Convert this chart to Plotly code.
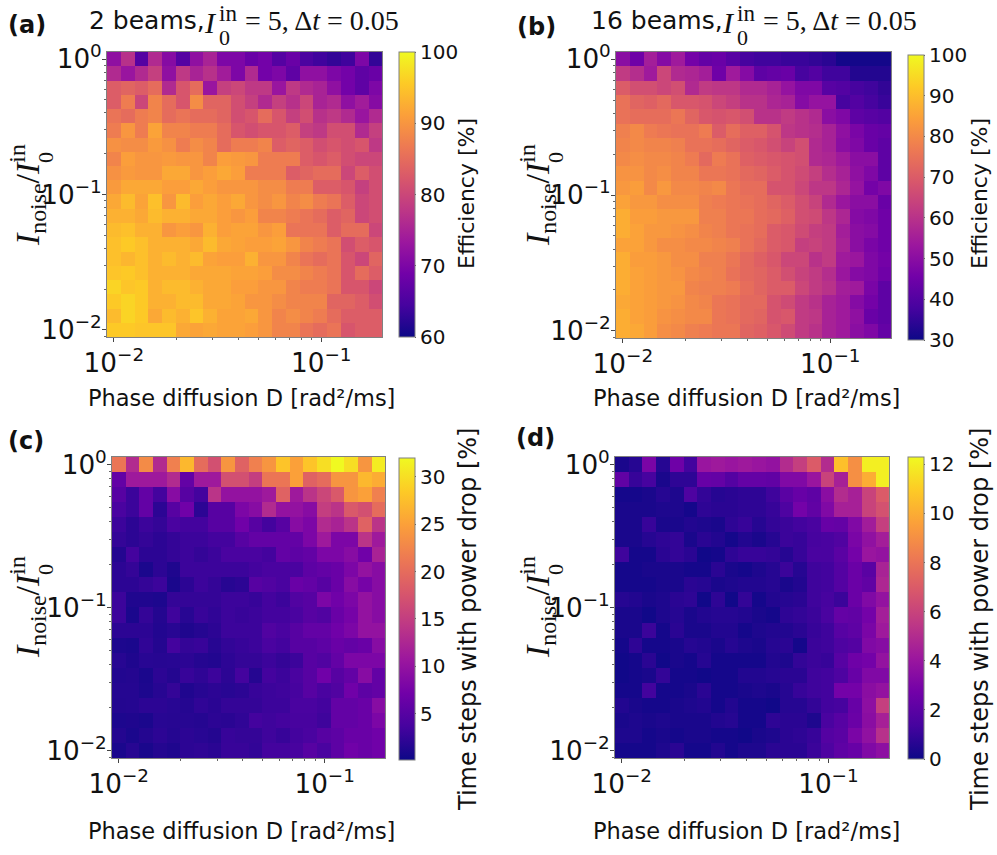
import plotly.graph_objects as go

W, H = 997, 855

D_values = [0.01, 0.01165, 0.01358, 0.01582, 0.01843, 0.02148, 0.02502, 0.02915, 0.03397, 0.03958,
            0.04611, 0.05372, 0.06259, 0.07293, 0.08497, 0.09899, 0.11533, 0.13437, 0.15656, 0.18241]
noise_values = [1.0, 0.7848, 0.6158, 0.4833, 0.3793, 0.2976, 0.2336, 0.1833, 0.1438, 0.1129,
                0.08859, 0.06952, 0.05456, 0.04281, 0.0336, 0.02637, 0.02069, 0.01624, 0.01274, 0.01]

eff_2beams = [
 [72,77,66,76,71,66,72,75,70,70,68,69,66,68,65,64,63,64,70,63],
 [76,73,76,79,72,78,75,77,74,70,76,69,70,67,72,72,70,69,67,68],
 [83,84,83,85,76,82,85,73,79,80,78,78,73,78,76,75,72,69,67,70],
 [83,87,80,88,85,82,89,84,84,81,79,76,79,77,80,75,76,72,74,71],
 [86,85,87,88,85,86,85,85,84,81,82,85,82,79,81,77,78,76,73,76],
 [87,90,87,91.5,88,88,87,87,85,82,81,82,82,83,79,78,81,81,76,79],
 [89.5,89,89,90.5,89.5,87,89,88,85,87,87,88,83,84,83,81,82,81,82,78],
 [88,91,90,90,90.5,90,90,88,91,90.5,90,87,87,87,83,82,83,81,80,80],
 [89.5,90.5,90,90,92,92,90,91,92,91,87,87,87,83,84,85,85,80,83,81],
 [90.5,92,92,92,91,91,92,91,90,90,90,89,89,87,87,83,83,82,79,81],
 [92,94,91.5,94.5,90,94,91,92,91,92,90,89,90,88,89,87,86,83,80,81],
 [93,93,92,94,93,93,92,92,91,90,91,88,88,87,86,85,83,84,80,81],
 [94,94.5,93,93,90,91,90,93,91,91.5,91.5,90,91,86,86,86,83,85,85,80],
 [94.5,95.5,94.5,93,93,93,92,94,92,91.5,91,91,91.5,90,88,87,86,81,83,82],
 [94.5,93.5,94.5,93,94,93,94,91.5,91,91,93,90,90,88,86,85,86,82,80,84],
 [95,95.5,94.5,93,93,93,92,92,92,91.5,91.5,91,89,89,88,87,86,82,85,83],
 [96.5,95,95.5,93,94,94,93,92,92,91,91,90,90,88,87,87,86,82,82,80],
 [95.5,96.5,95.5,93,93,94,94,92,92,91.5,90,90,89,88,88,88,84,84,83,81],
 [94,96.5,95.5,92,94,93,95,93,91.5,91.5,92,90,88,89,88,87,85,83,83,83],
 [95.5,95.5,95,95,95,92,91.5,92,91.5,91.5,91,90,88,88,86,85,86,82,83,83],
]
eff_16beams = [
 [50,45,55,49,54,46,43,44,41,38,37,37,36,36,35,34,31,31,31,31],
 [62,59,54,65,58,57,55,45,54,49,42,43,44,38,40,37,37,33,33,33],
 [70,67,67,65,67,58,62,61,61,58,58,56,52,48,48,41,40,38,37,35],
 [75,72,71,73,69,69,68,65,63,60,60,57,56,49,52,52,38,40,38,36],
 [75,74,74,74,76,72,69,68,69,67,60,60,62,60,58,50,48,42,41,40],
 [78,80,77,76,75,75,77,70,74,71,71,68,61,60,59,56,51,47,44,43],
 [79,80,79,79,78,75,75,74,72,70,69,67,64,67,58,56,50,48,44,42],
 [80,81,80,80,79,77,73,77,75,71,70,69,68,67,58,57,54,50,50,42],
 [82,82,80,81,79,79,76,76,75,73,72,70,68,66,63,59,56,51,48,42],
 [83,84,80,83,80,80,79,80,76,74,74,68,68,65,61,61,57,52,46,48],
 [85,83,83,81,81,81,78,77,76,75,74,72,70,67,64,58,53,50,50,44],
 [87,84,84,83,83,83,78,78,76,76,74,73,71,67,66,61,57,49,48,45],
 [87,85,83,83,82,81,79,78,76,75,74,70,69,66,63,62,55,50,49,45],
 [85,85,83,81,81,80,80,79,78,75,73,70,69,63,64,62,56,50,47,45],
 [87,84,84,83,81,81,78,78,76,73,71,69,65,65,60,62,54,53,48,46],
 [87,85,84,83,82,80,79,78,75,73,72,70,67,64,62,59,53,49,48,45],
 [87,85,84,83,83,79,78,78,77,74,72,70,70,65,62,60,55,54,47,42],
 [86,85,84,83,82,80,79,76,75,73,73,68,66,62,60,56,54,49,46,42],
 [87,85,84,82,81,80,80,76,75,73,72,68,69,62,61,56,54,51,44,42],
 [87,86,84,81,80,78,77,76,76,72,71,69,66,62,60,56,54,50,48,43],
]
drop_2beams = [
 [21,13,23,13,22,27,20,17,24,19,22,24,28,25,28,30,32,30,24,31],
 [6,11,11,11,13,6,11,11,17,17,15,21,21,25,19,20,24,24,27,26],
 [5,3,6,3.5,9,5,3.5,14,10,10,10,11,19,11,14,16,18,24,25,22],
 [4,3,6,2,5,7,2,5,5,8,9,13,10,10,9,15,14,18,17,20],
 [3,2,3,2.5,4,3.5,3.5,5,5,7,5,3.5,5,9,8,13,12,14,19,14],
 [2.5,2,2.5,2,2.5,3,3,3.5,3.5,5,6,6,6,6,8,11,8,8,14,11],
 [1.5,3.5,2,2,2.5,3,2.5,3,4,4,4,3.5,6,5.5,6,8,8,9,7,12],
 [2,2.5,1,2,1.2,3,3,3,3,3,3.5,4,4,4,5.5,6,6.5,8,10,9],
 [2,2,2.5,3,0.9,2,3,2.5,1.7,2,5,4.5,4,6.5,6,5,6.5,9,7.5,9],
 [3,1.3,1.3,1.1,2.5,2.5,2.5,2.5,3,3,2.7,3.5,3,4.5,5,8,7,8,10,9],
 [3,1,2.5,1.5,3.2,1.8,2.8,2.3,3,2.8,3,3.5,3.5,4,5,4.5,6.5,7.5,10,9],
 [2,2,2,1.4,1.8,1.2,1.6,2,3,3,3,4.5,4,5,6,6,7,8,10,10],
 [1.1,1,2.3,1.5,3.5,2.5,2.8,1.7,2.4,2.7,3,4,3.5,5,5,5.5,6.5,6,6.5,9],
 [1.7,1.2,1.8,1.7,1.8,2,1.6,1.4,2.1,2.5,2.5,3,2.5,3,5,4.5,6,8,8,8],
 [1.4,1.5,1,2,1.5,2.7,2.2,3,2,3.5,1.6,3.5,3,4,5,7,5,6,9,6],
 [1.6,1.6,1.1,1.7,2.5,1.3,1.7,2,1.8,2,2.7,3,3.2,3.7,5,4,4.5,7,5.5,6],
 [1.5,1.6,2,2,1.8,1.6,2.3,1.9,2.5,2.5,2.5,3,3,4,4,3.5,6,6,6.5,9],
 [1.1,1.2,1,1.8,1.7,1.7,1.6,2,1.9,2.3,3.5,3.2,3.5,3.8,3.8,3.2,6,6,6.5,8],
 [1.5,1,1.5,2,1.6,2,1.8,1.5,2.7,2.5,2.5,3.2,2.7,3.5,4,5,5.5,6.5,6.5,7],
 [1,1.7,0.9,1.5,1.2,2,2.2,1.9,2.8,2.8,2.4,3.5,3.5,3.8,5,4,5.5,7,6.5,7],
]
drop_16beams = [
 [0.3,0.6,3,0.6,2.6,1.3,4,4.2,4,4.2,4,3.8,5,5.8,7,5,10.6,9,12,12],
 [2.2,1,1.4,0.3,0.8,0.8,2.4,2.3,1.8,2.3,2.3,2.2,3.2,3.2,4,6,4.5,9,10,12],
 [0.2,0.2,0.3,0.6,0.4,1.6,0.9,0.6,0.7,0.8,0.8,1.2,2,2.4,2.1,3.5,5,4.5,6,7],
 [0.3,0.3,0.3,0.4,0.4,0.2,0.8,0.7,0.7,0.8,0.8,1,1.6,2.8,2.2,3.2,4.5,4.5,6,6.6],
 [0.3,0.3,1,0.3,0.3,0.5,0.4,0.3,0.8,1,0.6,0.9,1.1,1.3,1.5,2.4,2.3,3.2,4.3,5.8],
 [0.3,0.3,0.6,0.8,0.9,0.3,0.7,0.5,0.2,0.5,0.3,0.6,1.1,1,1.4,1.5,1.7,3,3.7,4.4],
 [1.2,0.2,0.2,0.7,0.9,0.7,0.1,0.2,0.8,1,1,0.9,0.6,1,1.5,1.5,2,2.8,4,3.8],
 [0.2,0.2,0.3,0.3,0.3,0.2,0.2,0.7,0.3,0.2,0.4,0.6,1.1,0.6,1.2,1.3,1.8,2.5,2,4.6],
 [0.2,0.2,0.2,0.3,0.3,0.7,0.6,0.3,0.4,0.5,0.5,0.6,0.3,0.5,1.2,1.3,1.8,2.5,2.2,4.8],
 [0.6,0.5,0.3,0.4,0.7,0.8,0.1,0.8,0.1,0.9,0.2,0.5,0.6,0.7,1.2,1.4,1.1,2.5,3.2,3.8],
 [0.3,0.3,0.1,0.4,0.6,0.3,0.5,0.6,0.6,0.5,0.3,0.2,0.8,0.9,1.1,1.5,2.3,2.2,2.8,4.4],
 [0.3,0.3,1.1,0.2,0.7,0.3,0.3,0.5,0.5,0.2,0.4,0.5,0.5,0.7,1,1.2,1.9,2.1,3,4.2],
 [0.2,0.8,0.2,0.2,0.3,0.6,0.5,0.3,0.6,0.4,0.3,0.6,0.7,0.2,1.1,1.2,1.6,1.8,3.2,3.4],
 [0.1,0.2,0.7,0.1,0.3,0.2,0.6,0.2,0.2,0.2,0.2,0.5,0.4,0.9,1.1,1,1.9,2.6,2.8,3.8],
 [0.1,0.2,0.3,0.9,0.2,0.2,0.1,0.2,0.2,0.5,0.5,0.6,0.7,0.7,1.2,1.3,1.6,2.4,3.2,3.2],
 [0.2,0.2,1.3,0.2,0.2,0.3,0.7,0.2,0.2,0.3,0.4,0.3,0.6,1,1.2,1.3,2.8,2.8,3.5,3.8],
 [0.5,0.3,0.2,0.2,0.3,0.4,0.5,0.2,0.5,0.2,0.2,0.1,0.6,0.6,0.9,1.3,1.4,2.4,3.6,5.8],
 [0.3,0.4,0.3,0.4,0.3,0.3,0.3,0.5,0.6,0.2,0.2,0.8,0.7,0.7,0.4,1.5,1.9,2.5,3.5,4.5],
 [0.4,0.4,0.2,0.3,0.2,0.3,0.3,0.2,0.2,0.1,0.3,0.4,0.7,0.8,1,1.8,2,3,3.7,5.2],
 [0.2,0.2,0.2,0.4,0.7,0.2,0.2,0.5,0.2,0.4,0.4,0.7,0.7,0.7,1.1,1.6,2.1,2.4,3.2,3.6],
]

panel_letters = ["(a)", "(b)", "(c)", "(d)"]
beam_labels = ["2 beams,", "16 beams,"]
eff_label = "Efficiency [%]"
drop_label = "Time steps with power drop [%]"
x_label = "Phase diffusion D [rad²/ms]"
SANS = "DejaVu Sans"
SERIF = "Liberation Serif"


def edges(vals):
    """Cell boundaries halfway between centres in log space."""
    v = sorted(vals)
    mids = [(a * b) ** 0.5 for a, b in zip(v[:-1], v[1:])]
    return [v[0] ** 2 / mids[0]] + mids + [v[-1] ** 2 / mids[-1]]


x_edges, y_edges = edges(D_values), edges(noise_values)

panels = [
    dict(z=eff_2beams, zmin=60, zmax=100, dtick=10, tick0=60, box=(107, 382, 52, 337), bar=(399, 415, 52, 337)),
    dict(z=eff_16beams, zmin=30, zmax=100, dtick=10, tick0=30, box=(616, 891, 52, 338), bar=(908, 924, 55, 340)),
    dict(z=drop_2beams, zmin=0.1, zmax=32, dtick=5, tick0=5, box=(112, 385, 457, 758), bar=(399, 415, 458, 760)),
    dict(z=drop_16beams, zmin=0, zmax=12.3, dtick=2, tick0=0, box=(615, 889, 457, 758), bar=(908, 924, 457, 759)),
]

fig = go.Figure()
layout = {}
for i, p in enumerate(panels):
    n = "" if i == 0 else str(i + 1)
    x0, x1, y0, y1 = p["box"]
    bx0, bx1, by0, by1 = p["bar"]
    fig.add_trace(go.Heatmap(
        x=x_edges, y=y_edges, z=p["z"][::-1], zmin=p["zmin"], zmax=p["zmax"],
        colorscale="Plasma", xaxis="x" + n, yaxis="y" + n,
        colorbar=dict(
            x=bx0 / W, xanchor="left", xref="paper",
            y=1 - by1 / H, yanchor="bottom", yref="paper",
            len=(by1 - by0) / H, lenmode="fraction",
            thickness=bx1 - bx0, thicknessmode="pixels",
            xpad=0, ypad=0, outlinecolor="#808080", outlinewidth=1,
            ticks="outside", ticklen=1, tickwidth=1, tickcolor="#555",
            tick0=p["tick0"], dtick=p["dtick"],
            tickfont=dict(family=SANS, size=20, color="#111"),
        ),
    ))
    axis_common = dict(
        type="log", dtick=1, ticks="outside", ticklen=4, tickwidth=1, tickcolor="#444",
        exponentformat="power", showgrid=False, zeroline=False, showline=True,
        linecolor="#808080", linewidth=1, mirror=True,
        tickfont=dict(family=SANS, size=21, color="#111"),
        labelalias={"1": "10<sup>0</sup>"},
        minor=dict(ticks="outside", ticklen=2, tickwidth=1, tickcolor="#666", dtick="D1", showgrid=False),
    )
    layout["xaxis" + n] = dict(
        axis_common, domain=[x0 / W, x1 / W], range=[-2.033, -0.707], anchor="y" + n,
    )
    layout["yaxis" + n] = dict(
        axis_common, domain=[1 - y1 / H, 1 - y0 / H], range=[-2.0526, 0.0526], anchor="x" + n,
        ticklabelstandoff=-4,
    )

annotations = []


def text(px, py, s, size, family=SANS, color="#111", angle=0, xanchor="center", yanchor="middle"):
    annotations.append(dict(
        x=px / W, y=1 - py / H, xref="paper", yref="paper", text=s, showarrow=False,
        font=dict(family=family, size=size, color=color), textangle=angle,
        xanchor=xanchor, yanchor=yanchor, borderpad=0,
    ))


# panel letters
for s, (px, py) in zip(panel_letters, [(7, 25), (516, 27), (7, 441), (515, 438)]):
    text(px, py, "<b>%s</b>" % s, 24, xanchor="left")

# panel titles
for s, px0, ix in [(beam_labels[0], 88, 203), (beam_labels[1], 590, 721)]:
    text(px0, 20, s, 25, xanchor="left")
    text(ix, 22, "<i>I</i>", 30, SERIF, xanchor="left")
    text(ix + 15, 14, "in", 23, SERIF, xanchor="left")
    text(ix + 15, 38, "0", 22, SERIF, xanchor="left")
    text(ix + 41, 21, "= 5, Δ<i>t</i> = 0.05", 28, SERIF, xanchor="left")

# y-axis titles
for px, py in [(27, 195), (537, 195), (27, 607), (537, 607)]:
    text(px, py, "<i>I</i><sub>noise</sub>/<i>I</i><sup>in</sup>", 34, SERIF, angle=-90)
    text(px + 18, py - 37, "0", 22, SERIF, angle=-90)

# x-axis titles
for px, py in [(241, 398), (746, 398), (241, 831), (746, 831)]:
    text(px, py, x_label, 22.5)

# colorbar titles
for px, py, s, size in [(467, 194, eff_label, 22), (980, 194, eff_label, 22),
                        (468, 620, drop_label, 24), (980, 620, drop_label, 24)]:
    text(px, py, s, size, angle=-90)

fig.update_layout(
    width=W, height=H, margin=dict(l=0, r=0, t=0, b=0, autoexpand=False), paper_bgcolor="white",
    plot_bgcolor="white", annotations=annotations, showlegend=False, **layout,
)
fig.write_html("out.html", post_script="document.body.style.margin='0';",
               config={"displayModeBar": False})
